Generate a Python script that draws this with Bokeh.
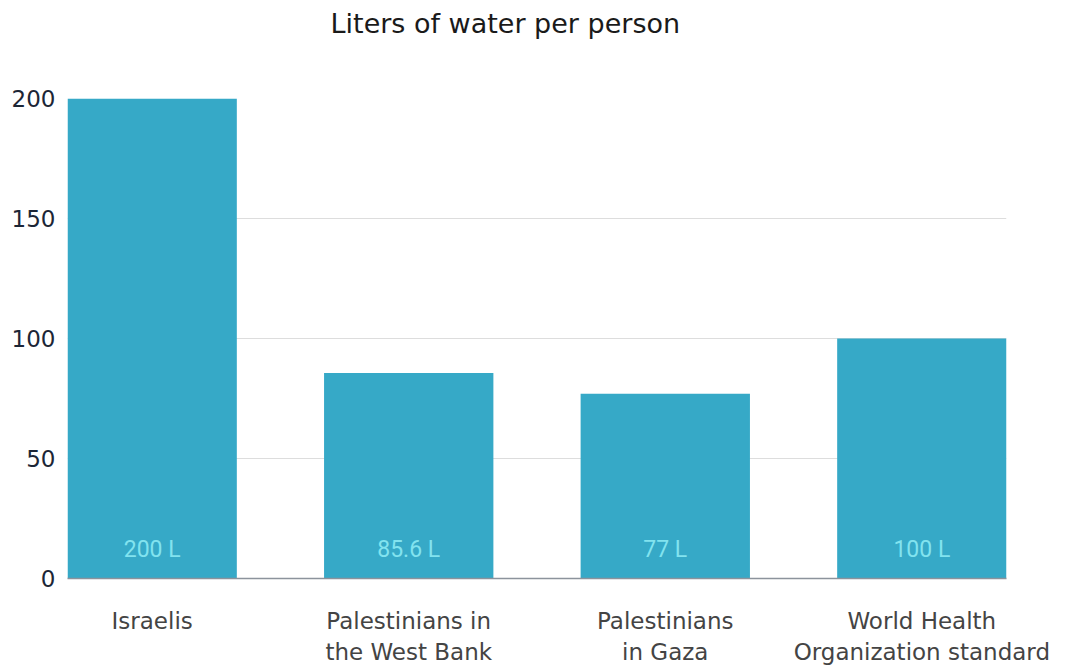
from bokeh.plotting import figure
from bokeh.models import ColumnDataSource, Range1d, FixedTicker, Title
from bokeh.core.properties import value
from bokeh.embed import file_html
from bokeh.resources import INLINE

categories = ["Israelis", "Palestinians in\nthe West Bank", "Palestinians\nin Gaza", "World Health\nOrganization standard"]
liters = [200, 85.6, 77, 100]
value_labels = ["200 L", "85.6 L", "77 L", "100 L"]
y_ticks = [0, 50, 100, 150, 200]

xs = list(range(len(categories)))
src = ColumnDataSource(dict(x=xs, top=liters, lab=value_labels, base=[0] * len(xs)))

BAR_W = 0.66
p = figure(width=1068, height=667, output_backend="svg", toolbar_location=None,
           x_range=Range1d(-BAR_W / 2, len(xs) - 1 + BAR_W / 2), y_range=Range1d(0, 200),
           min_border_left=67, min_border_right=62, min_border_top=98, min_border_bottom=88)
p.outline_line_color = None
p.background_fill_color = "white"
p.border_fill_color = "white"

spacer = Title(text=" ", text_font_size="39px")
p.add_layout(spacer, "above")
title = Title(text="Liters of water per person", align="left", offset=263,
              text_font="DejaVu Sans", text_font_size="27px", text_font_style="normal",
              text_color="#1a1a1a")
p.add_layout(title, "above")

p.vbar(x="x", top="top", width=BAR_W, source=src, fill_color="#36a9c7", line_color=None)
p.text(x="x", y="base", text="lab", source=src, y_offset=-29, text_align="center",
       text_baseline="middle", text_color="#82e3ef", text_font=value("Roboto"),
       text_font_size="23px")

p.xgrid.grid_line_color = None
p.ygrid.grid_line_color = "#dddddd"
p.ygrid.grid_line_width = 1
p.ygrid.ticker = FixedTicker(ticks=y_ticks)

p.yaxis.ticker = FixedTicker(ticks=y_ticks)
p.yaxis.axis_line_color = None
p.yaxis.major_tick_line_color = None
p.yaxis.minor_tick_line_color = None
p.yaxis.major_label_standoff = 6
p.yaxis.major_label_text_font = "DejaVu Sans"
p.yaxis.major_label_text_font_size = "23px"
p.yaxis.major_label_text_color = "#1c2636"

p.xaxis.ticker = FixedTicker(ticks=xs)
p.xaxis.major_label_overrides = {i: c for i, c in zip(xs, categories)}
p.xaxis.axis_line_color = "#8c939c"
p.xaxis.axis_line_width = 1.5
p.xaxis.major_tick_line_color = None
p.xaxis.minor_tick_line_color = None
p.xaxis.major_label_standoff = 23
p.xaxis.major_label_text_font = "DejaVu Sans"
p.xaxis.major_label_text_font_size = "23px"
p.xaxis.major_label_text_line_height = 1.2
p.xaxis.major_label_text_color = "#444444"

open("out.html", "w").write(file_html(p, INLINE))
